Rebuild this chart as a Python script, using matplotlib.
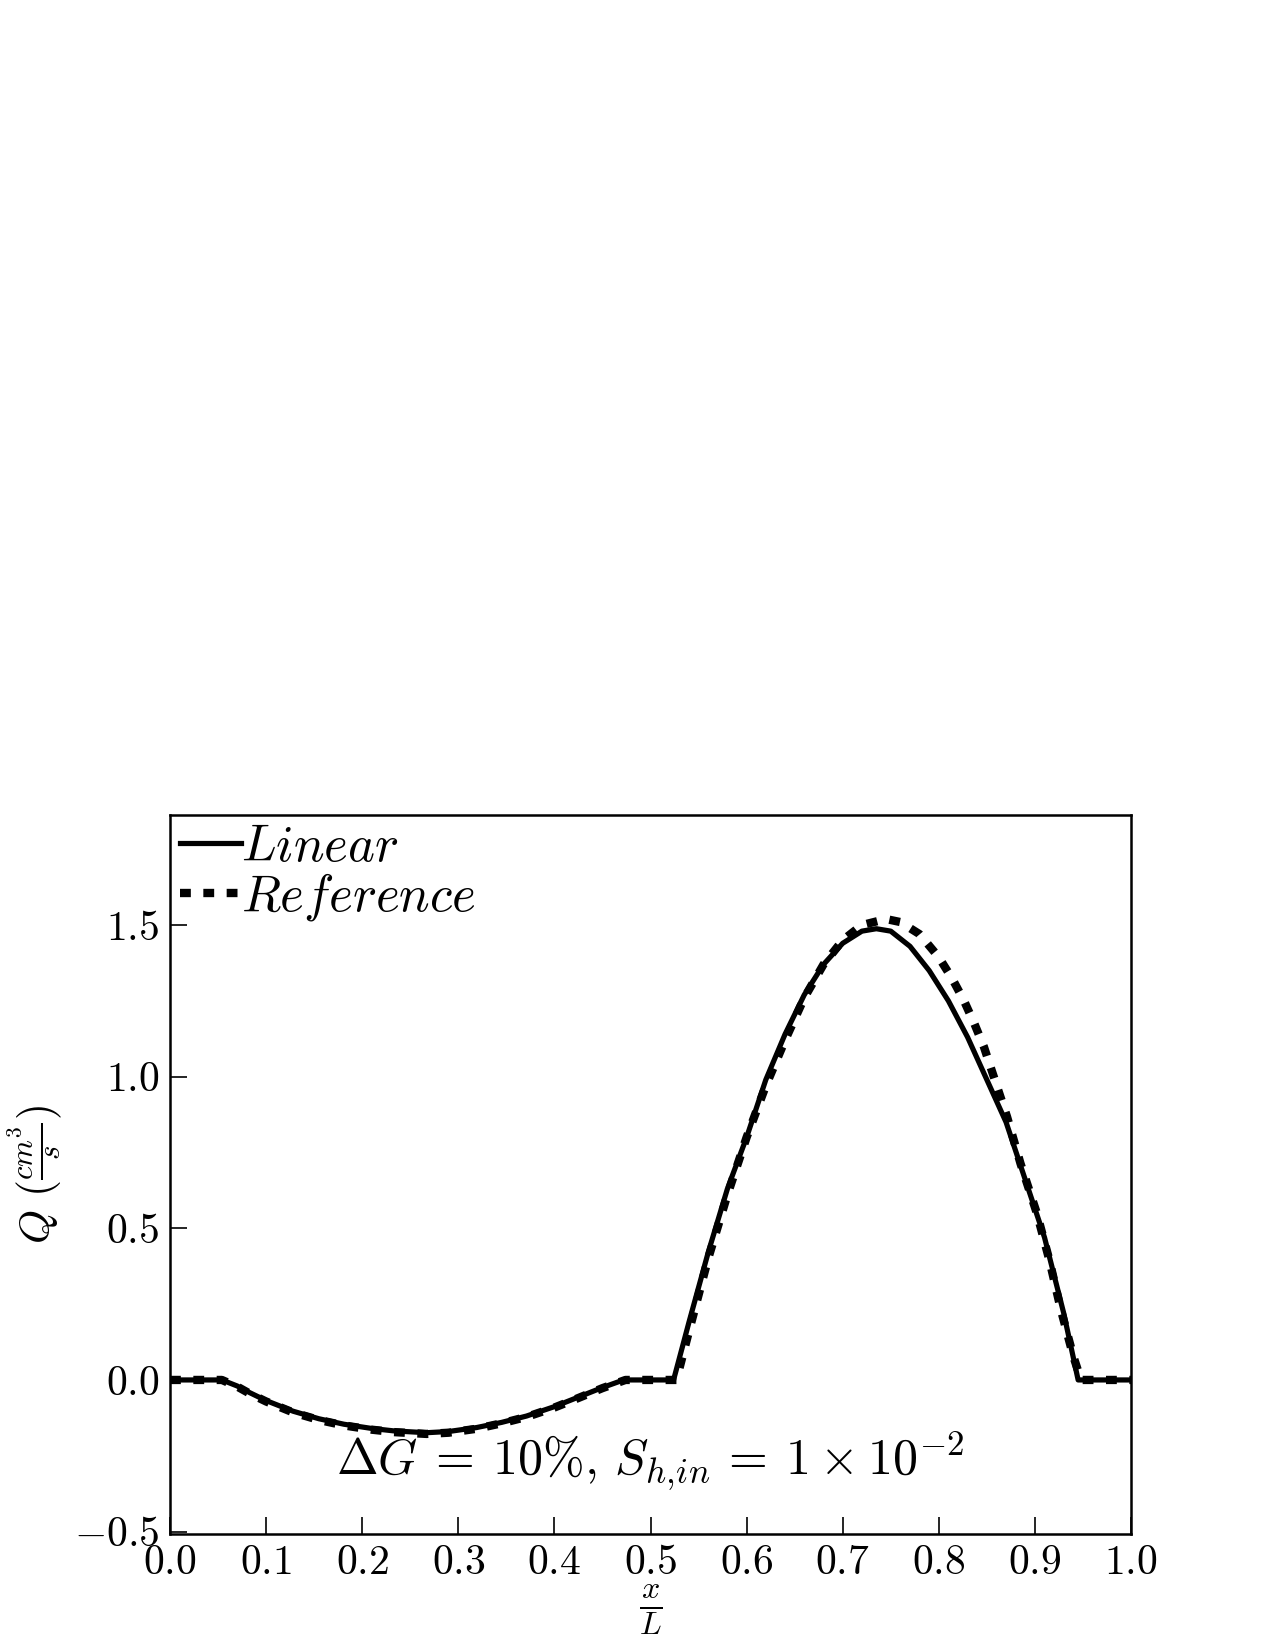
import numpy as np
import matplotlib
matplotlib.use('Agg')
import matplotlib.pyplot as plt

plt.rcParams['font.family'] = 'serif'
plt.rcParams['font.serif'] = ['cmr10']
plt.rcParams['mathtext.fontset'] = 'cm'
plt.rcParams['axes.formatter.use_mathtext'] = True

# values
x_lin = [0.0, 0.054, 0.07, 0.083, 0.10, 0.128, 0.155, 0.181, 0.21, 0.233, 0.267, 0.29,
         0.319, 0.345, 0.371, 0.40, 0.423, 0.45, 0.472,
         0.524, 0.54, 0.56, 0.58, 0.60, 0.62, 0.64, 0.66, 0.68, 0.70, 0.72, 0.735,
         0.75, 0.77, 0.79, 0.81, 0.83, 0.85, 0.87, 0.89, 0.91, 0.93, 0.945, 1.0]
q_lin = [0.0, 0.0, -0.02, -0.042, -0.068, -0.103, -0.128, -0.146, -0.160, -0.168, -0.174, -0.170,
         -0.157, -0.140, -0.119, -0.088, -0.059, -0.025, 0.0,
         0.0, 0.19, 0.42, 0.63, 0.80, 0.99, 1.14, 1.27, 1.37, 1.44, 1.48, 1.488,
         1.48, 1.43, 1.35, 1.25, 1.13, 0.99, 0.85, 0.66, 0.47, 0.22, 0.0, 0.0]

x_ref = [0.0, 0.054, 0.07, 0.083, 0.10, 0.128, 0.155, 0.181, 0.21, 0.233, 0.267, 0.29,
         0.319, 0.345, 0.371, 0.40, 0.423, 0.45, 0.474,
         0.527, 0.54, 0.56, 0.58, 0.60, 0.62, 0.64, 0.66, 0.68, 0.70, 0.72, 0.745,
         0.76, 0.78, 0.80, 0.814, 0.826, 0.837, 0.847, 0.855, 0.871, 0.885, 0.902,
         0.915, 0.927, 0.940, 0.948, 1.0]
q_ref = [0.0, 0.0, -0.022, -0.045, -0.071, -0.107, -0.132, -0.150, -0.164, -0.172, -0.178, -0.174,
         -0.161, -0.143, -0.122, -0.091, -0.062, -0.027, 0.0,
         0.0, 0.16, 0.40, 0.61, 0.80, 0.97, 1.12, 1.26, 1.37, 1.45, 1.50, 1.52,
         1.51, 1.47, 1.394, 1.323, 1.252, 1.175, 1.098, 1.021, 0.868, 0.714, 0.55,
         0.396, 0.232, 0.078, 0.0, 0.0]

xticks = np.arange(0, 1.01, 0.1)
yticks = [-0.5, 0.0, 0.5, 1.0, 1.5]

fig = plt.figure(figsize=(8.5, 11), dpi=150)
ax = fig.add_axes([170/1275, 116/1650, 961/1275, 719/1650])

ax.plot(x_lin, q_lin, color='k', lw=2.5, label=r'$Linear$')
ax.plot(x_ref, q_ref, color='k', lw=4.0, linestyle=(0, (1.3, 1.5)), label=r'$Reference$')

ax.set_xlim(0, 1)
ax.set_ylim(-0.508, 1.863)
ax.set_xticks(xticks)
ax.set_yticks(yticks)
ax.tick_params(direction='in', length=8, width=0.8, labelsize=20, pad=5,
               top=False, right=False)
for s in ax.spines.values():
    s.set_linewidth(1.2)

ax.set_xlabel(r'$\frac{x}{L}$', fontsize=22, labelpad=0)
ax.set_ylabel(r'$Q\ (\frac{cm^3}{s})$', fontsize=21)
ax.yaxis.set_label_coords(-0.11, 0.5)

ax.text(0.5, -0.315, r'$\Delta G\:=\:10\%,\,S_{h,\!in}\,=\:1\times 10^{-2}$',
        fontsize=24, ha='center', va='baseline')

ax.legend(loc='upper left', frameon=False, fontsize=24.5, handlelength=1.2,
          handletextpad=0.0, labelspacing=0.0, borderaxespad=0.0,
          borderpad=0.2)

fig.savefig('out.png', dpi=150)
